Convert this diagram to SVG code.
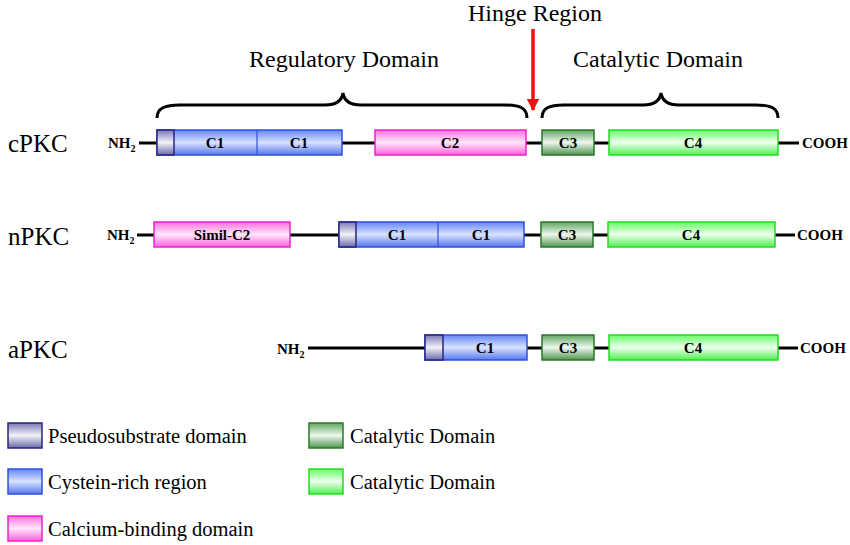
<svg xmlns="http://www.w3.org/2000/svg" width="850" height="545" viewBox="0 0 850 545">
<defs>
<linearGradient id="gPs" x1="0" y1="0" x2="0" y2="1"><stop offset="0" stop-color="#7a78b8"/><stop offset="0.5" stop-color="#f2f2f8"/><stop offset="1" stop-color="#6a68a8"/></linearGradient>
<linearGradient id="gC1" x1="0" y1="0" x2="0" y2="1"><stop offset="0" stop-color="#6485f5"/><stop offset="0.5" stop-color="#d8e2ff"/><stop offset="1" stop-color="#5577f0"/></linearGradient>
<linearGradient id="gC2" x1="0" y1="0" x2="0" y2="1"><stop offset="0" stop-color="#ff70e0"/><stop offset="0.5" stop-color="#ffe6fa"/><stop offset="1" stop-color="#ff60dc"/></linearGradient>
<linearGradient id="gC3" x1="0" y1="0" x2="0" y2="1"><stop offset="0" stop-color="#5fa65f"/><stop offset="0.5" stop-color="#eef6ee"/><stop offset="1" stop-color="#4e944e"/></linearGradient>
<linearGradient id="gC4" x1="0" y1="0" x2="0" y2="1"><stop offset="0" stop-color="#66ff66"/><stop offset="0.5" stop-color="#eeffee"/><stop offset="1" stop-color="#50f050"/></linearGradient>
<marker id="arr" viewBox="0 0 10 10" refX="9" refY="5" markerWidth="3.6" markerHeight="3.6" orient="auto" markerUnits="strokeWidth"><path d="M0,0 L10,5 L0,10 z" fill="#ee1111"/></marker>
</defs>
<style>
.ps{fill:url(#gPs);stroke:#262680;stroke-width:1.5}
.c1{fill:url(#gC1);stroke:#3050dd;stroke-width:1.5}
.c2{fill:url(#gC2);stroke:#ee22cc;stroke-width:1.5}
.c3{fill:url(#gC3);stroke:#2a7a2a;stroke-width:1.5}
.c4{fill:url(#gC4);stroke:#22dd22;stroke-width:1.5}
.div{stroke:#3050dd;stroke-width:1.2}
.ln{stroke:#000;stroke-width:3;fill:none}
.br{stroke:#000;stroke-width:3;fill:none}
.lbl{font-family:"Liberation Serif",serif;font-weight:bold;font-size:15px;text-anchor:middle;fill:#000}
.term{font-family:"Liberation Serif",serif;font-weight:bold;font-size:15px;fill:#000}
.big{font-family:"Liberation Serif",serif;font-size:25px;fill:#000}
.hd{font-family:"Liberation Serif",serif;font-size:24px;fill:#000;text-anchor:middle}
.lg{font-family:"Liberation Serif",serif;font-size:20.5px;fill:#000}
</style>
<g id="connectors">
<line class="ln" x1="139" y1="143" x2="157" y2="143"/>
<line class="ln" x1="342" y1="143" x2="375" y2="143"/>
<line class="ln" x1="526" y1="143" x2="542" y2="143"/>
<line class="ln" x1="594" y1="143" x2="609" y2="143"/>
<line class="ln" x1="778" y1="143" x2="799" y2="143"/>
<line class="ln" x1="137" y1="235" x2="154" y2="235"/>
<line class="ln" x1="290" y1="235" x2="339" y2="235"/>
<line class="ln" x1="524" y1="235" x2="541" y2="235"/>
<line class="ln" x1="593" y1="235" x2="608" y2="235"/>
<line class="ln" x1="775" y1="235" x2="795" y2="235"/>
<line class="ln" x1="308" y1="348" x2="425" y2="348"/>
<line class="ln" x1="527" y1="348" x2="542" y2="348"/>
<line class="ln" x1="594" y1="348" x2="609" y2="348"/>
<line class="ln" x1="778" y1="348" x2="798" y2="348"/>
<line x1="533" y1="29" x2="533" y2="110" stroke="#ee1111" stroke-width="3.5" marker-end="url(#arr)"/>
</g>
<g id="titles">
<text class="hd" x="535" y="21">Hinge Region</text>
<text class="hd" x="344" y="67">Regulatory Domain</text>
<text class="hd" x="658" y="67">Catalytic Domain</text>
</g>
<g id="brace-regulatory">
<path class="br" d="M157,118 C157,108 165,105 180,105 L325,105 C337,105 342,100 343,93 C344,100 349,105 361,105 L505,105 C520,105 527,108 527,118"/>
</g>
<g id="brace-catalytic">
<path class="br" d="M542,118 C542,108 549,105 564,105 L643,105 C655,105 660,100 661,93 C662,100 667,105 679,105 L756,105 C771,105 778,108 778,118"/>
</g>
<g id="cPKC">
<text class="big" x="8" y="152">cPKC</text>
<text class="term" x="108" y="148">NH<tspan font-size="10" dy="4">2</tspan></text>
<rect class="c1" x="157" y="130" width="185" height="25"/>
<rect class="ps" x="157" y="130" width="17" height="25"/>
<line class="div" x1="257" y1="130" x2="257" y2="155"/>
<text class="lbl" x="215" y="148">C1</text>
<text class="lbl" x="299" y="148">C1</text>
<rect class="c2" x="375" y="130" width="151" height="25"/>
<text class="lbl" x="450" y="148">C2</text>
<rect class="c3" x="542" y="130" width="52" height="25"/>
<text class="lbl" x="568" y="148">C3</text>
<rect class="c4" x="609" y="130" width="169" height="25"/>
<text class="lbl" x="693" y="148">C4</text>
<text class="term" x="802" y="148">COOH</text>
</g>
<g id="nPKC">
<text class="big" x="8" y="245">nPKC</text>
<text class="term" x="107" y="240">NH<tspan font-size="10" dy="4">2</tspan></text>
<rect class="c2" x="154" y="222" width="136" height="25"/>
<text class="lbl" x="222" y="240">Simil-C2</text>
<rect class="c1" x="339" y="222" width="185" height="25"/>
<rect class="ps" x="339" y="222" width="17" height="25"/>
<line class="div" x1="438" y1="222" x2="438" y2="247"/>
<text class="lbl" x="397" y="240">C1</text>
<text class="lbl" x="481" y="240">C1</text>
<rect class="c3" x="541" y="222" width="52" height="25"/>
<text class="lbl" x="567" y="240">C3</text>
<rect class="c4" x="608" y="222" width="167" height="25"/>
<text class="lbl" x="691" y="240">C4</text>
<text class="term" x="797" y="240">COOH</text>
</g>
<g id="aPKC">
<text class="big" x="8" y="358">aPKC</text>
<text class="term" x="277" y="354">NH<tspan font-size="10" dy="4">2</tspan></text>
<rect class="c1" x="425" y="335" width="102" height="25"/>
<rect class="ps" x="425" y="335" width="18" height="25"/>
<text class="lbl" x="485" y="353">C1</text>
<rect class="c3" x="542" y="335" width="52" height="25"/>
<text class="lbl" x="568" y="353">C3</text>
<rect class="c4" x="609" y="335" width="169" height="25"/>
<text class="lbl" x="693" y="353">C4</text>
<text class="term" x="800" y="353">COOH</text>
</g>
<g id="legend">
<rect class="ps" x="8" y="423" width="34" height="25"/>
<text class="lg" x="48" y="443">Pseudosubstrate domain</text>
<rect class="c1" x="8" y="469" width="34" height="25"/>
<text class="lg" x="48" y="489">Cystein-rich region</text>
<rect class="c2" x="8" y="516" width="34" height="25"/>
<text class="lg" x="48" y="536">Calcium-binding domain</text>
<rect class="c3" x="309" y="423" width="34" height="25"/>
<text class="lg" x="350" y="443">Catalytic Domain</text>
<rect class="c4" x="309" y="469" width="34" height="25"/>
<text class="lg" x="350" y="489">Catalytic Domain</text>
</g>
</svg>
